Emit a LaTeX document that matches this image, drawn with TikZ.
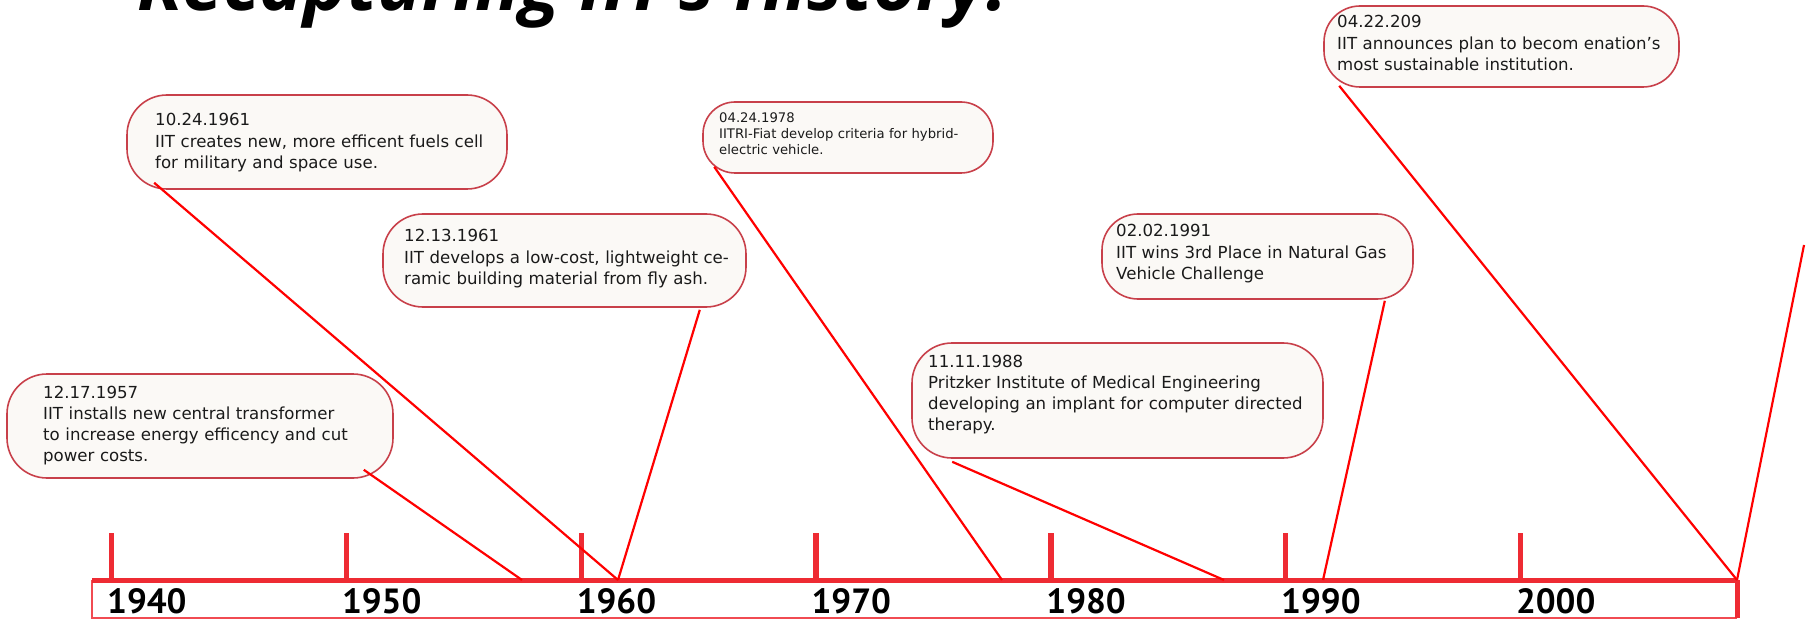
\documentclass[tikz,border=0pt]{standalone}
\usepackage{fontspec}
\setmainfont{DejaVu Sans}
\newfontfamily\yearfont{PT Sans}
\newfontfamily\titlefont{Open Sans}
\usetikzlibrary{calc}
\definecolor{boxred}{HTML}{C8404A}
\definecolor{boxfill}{HTML}{FBF9F6}
\definecolor{barred}{HTML}{EE2B33}
\definecolor{linkred}{HTML}{FF0000}
\definecolor{ink}{HTML}{1A1A1A}
\tikzset{
  evframe/.style={draw=boxred, fill=boxfill, line width=1.6pt, rounded corners=40pt, inner sep=0pt},
  evtext/.style={anchor=base west, inner sep=0pt, text width=430pt, align=left, text=ink,
                 font=\fontsize{16.6}{21.3}\selectfont},
  smalltext/.style={font=\fontsize{13.2}{16}\selectfont},
  link/.style={draw=linkred, line width=2.2pt},
  tickmark/.style={draw=barred, line width=5.5pt},
  barthick/.style={draw=barred, line width=5pt},
  barthin/.style={draw=barred!85, line width=2pt},
  yearlabel/.style={anchor=base west, inner sep=0pt, text=black,
                    font=\yearfont\bfseries\fontsize{35}{35}\selectfont},
}
\begin{document}
\begin{tikzpicture}[x=1pt,y=-1pt]
\useasboundingbox (0,0) rectangle (1806,620);
\clip (0,0) rectangle (1806,620);

% title (cut by the top edge, as in the reference)
\node[anchor=base west, inner sep=0pt] (title) at (137,11)
  {\titlefont\bfseries\itshape\fontsize{74}{74}\selectfont Recapturing IIT’s History!};

% event boxes
\node[evframe, minimum width=380pt, minimum height=94pt] (fA) at (317,142) {};
\node[evtext] (tA) at (155,126) {10.24.1961\\IIT creates new, more efficent fuels cell\\for military and space use.};

\node[evframe, minimum width=363pt, minimum height=93pt] (fB) at (564.5,260.5) {};
\node[evtext] (tB) at (404,242) {12.13.1961\\IIT develops a low-cost, lightweight ce-\\ramic building material from fly ash.};

\node[evframe, minimum width=386pt, minimum height=104pt] (fC) at (200,426) {};
\node[evtext] (tC) at (43,398) {12.17.1957\\IIT installs new central transformer\\to increase energy efficency and cut\\power costs.};

\node[evframe, rounded corners=32pt, minimum width=290pt, minimum height=71pt] (fD) at (848,137.5) {};
\node[evtext, smalltext] (tD) at (719,123) {04.24.1978\\IITRI-Fiat develop criteria for hybrid-\\electric vehicle.};

\node[evframe, rounded corners=36pt, minimum width=355pt, minimum height=81pt] (fE) at (1501.5,46.5) {};
\node[evtext] (tE) at (1337,28) {04.22.209\\IIT announces plan to becom enation’s\\most sustainable institution.};

\node[evframe, rounded corners=36pt, minimum width=311pt, minimum height=85pt] (fF) at (1257.5,256.5) {};
\node[evtext] (tF) at (1116,237) {02.02.1991\\IIT wins 3rd Place in Natural Gas\\Vehicle Challenge};

\node[evframe, minimum width=411pt, minimum height=115pt] (fG) at (1117.5,400.5) {};
\node[evtext] (tG) at (928,367) {11.11.1988\\Pritzker Institute of Medical Engineering\\developing an implant for computer directed\\therapy.};

% timeline bar
\coordinate (barNW) at (92,580);
\coordinate (barNE) at (1737,580);
\coordinate (barSW) at (92,618);
\coordinate (barSE) at (1737,618);
\draw[barthin] (barNW) -- (barSW) -- (barSE);
\draw[barthick] (barSE) -- (barNE);
\draw[barthick] (barNW) -- (barNE);

% ticks and years
\foreach \yr [count=\i from 0] in {1940,1950,1960,1970,1980,1990,2000} {
  \coordinate (tk\yr) at ({111.7+234.8*\i},533);
  \coordinate (tb\yr) at ({111.7+234.8*\i},580);
  \draw[tickmark] (tk\yr) -- (tb\yr);
  \node[yearlabel] (y\yr) at ({107+234.8*\i},613) {\yr};
}

% connector end points on the bar
\coordinate (b57) at (522,580);
\coordinate (b61) at (618,580);
\coordinate (b78) at (1002,580);
\coordinate (b88) at (1224,580);
\coordinate (b91) at (1323,580);
\coordinate (free) at (1804,245);

% connectors
\draw[link] ($(fC.south east)+(-30,-9)$) -- (b57);
\draw[link] ($(fA.south west)+(28,-7)$) -- (b61);
\draw[link] ($(fB.south east)+(-47,2)$) -- (b61);
\draw[link] ($(fD.south west)+(12,-7)$) -- (b78);
\draw[link] ($(fG.south west)+(41,3)$) -- (b88);
\draw[link] ($(fF.south east)+(-29,1)$) -- (b91);
\draw[link] ($(fE.south west)+(16,-2)$) -- (barNE);
\draw[link] (barNE) -- (free);
\end{tikzpicture}
\end{document}
